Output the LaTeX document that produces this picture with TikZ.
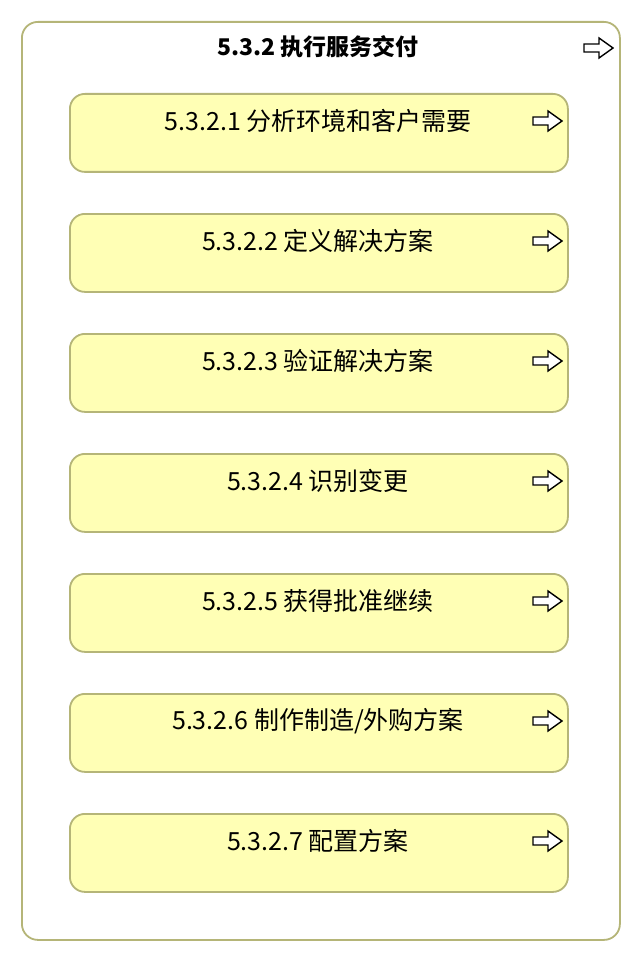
\documentclass[tikz,border=0pt]{standalone}
\usepackage{fontspec}
\setmainfont{Noto Sans CJK SC}
\definecolor{boxline}{HTML}{B5B578}
\definecolor{boxfill}{HTML}{FFFFB5}
\begin{document}
\begin{tikzpicture}[x=1pt,y=-1pt,
  outerbox/.style={draw=boxline, line width=1.8pt, rounded corners=16pt, fill=white, anchor=north west, inner sep=0pt},
  procbox/.style={draw=boxline, line width=1.8pt, rounded corners=15pt, fill=boxfill, anchor=north west, inner sep=0pt, minimum width=498pt, minimum height=78pt},
  titletext/.style={font=\fontsize{23}{23}\selectfont\bfseries, inner sep=0pt},
  proctext/.style={font=\fontsize{25}{25}\selectfont, inner sep=0pt},
  arrowicon/.pic={\draw[line width=1.4pt, line join=miter, fill=white] (0,-4) -- (15,-4) -- (15,-10) -- (29,0) -- (15,10) -- (15,4) -- (0,4) -- cycle;}
]
\useasboundingbox (0,0) rectangle (640,960);
\node[outerbox, minimum width=598pt, minimum height=918pt] (outer) at (21,21) {};
\node[titletext] (title) at (318,47) {5.3.2 执行服务交付};
\pic at (584,48) {arrowicon};

\node[procbox] (b1) at (69,93) {};
\node[proctext] (t1) at (318,121) {5.3.2.1 分析环境和客户需要};
\pic at (533,121) {arrowicon};

\node[procbox] (b2) at (69,213) {};
\node[proctext] (t2) at (318,241) {5.3.2.2 定义解决方案};
\pic at (533,241) {arrowicon};

\node[procbox] (b3) at (69,333) {};
\node[proctext] (t3) at (318,361) {5.3.2.3 验证解决方案};
\pic at (533,361) {arrowicon};

\node[procbox] (b4) at (69,453) {};
\node[proctext] (t4) at (318,481) {5.3.2.4 识别变更};
\pic at (533,481) {arrowicon};

\node[procbox] (b5) at (69,573) {};
\node[proctext] (t5) at (318,601) {5.3.2.5 获得批准继续};
\pic at (533,601) {arrowicon};

\node[procbox] (b6) at (69,693) {};
\node[proctext] (t6) at (318,721) {5.3.2.6 制作制造/外购方案};
\pic at (533,721) {arrowicon};

\node[procbox] (b7) at (69,813) {};
\node[proctext] (t7) at (318,841) {5.3.2.7 配置方案};
\pic at (533,841) {arrowicon};
\end{tikzpicture}
\end{document}
